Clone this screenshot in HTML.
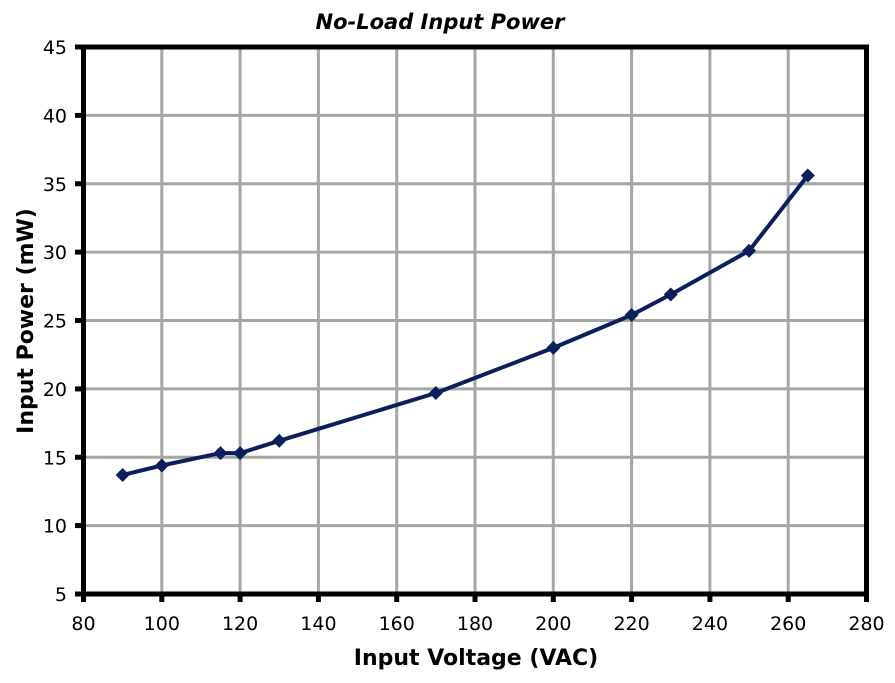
<!DOCTYPE html>
<html><head><style>body{margin:0;background:#fff}svg{display:block}text{font-family:"DejaVu Sans","Liberation Sans",sans-serif}</style></head><body>
<svg width="895" height="683" xmlns="http://www.w3.org/2000/svg">
<g stroke="#a6a6a6" stroke-width="3">
<line x1="161.8" y1="47" x2="161.8" y2="594"/><line x1="240.1" y1="47" x2="240.1" y2="594"/><line x1="318.4" y1="47" x2="318.4" y2="594"/><line x1="396.7" y1="47" x2="396.7" y2="594"/><line x1="475" y1="47" x2="475" y2="594"/><line x1="553.3" y1="47" x2="553.3" y2="594"/><line x1="631.6" y1="47" x2="631.6" y2="594"/><line x1="709.9" y1="47" x2="709.9" y2="594"/><line x1="788.2" y1="47" x2="788.2" y2="594"/>
<line x1="83.5" y1="115.4" x2="866.5" y2="115.4"/><line x1="83.5" y1="183.75" x2="866.5" y2="183.75"/><line x1="83.5" y1="252.1" x2="866.5" y2="252.1"/><line x1="83.5" y1="320.5" x2="866.5" y2="320.5"/><line x1="83.5" y1="388.9" x2="866.5" y2="388.9"/><line x1="83.5" y1="457.25" x2="866.5" y2="457.25"/><line x1="83.5" y1="525.6" x2="866.5" y2="525.6"/>
</g>
<g stroke="#000" stroke-width="5">
<line x1="83.5" y1="594" x2="83.5" y2="602"/><line x1="161.8" y1="594" x2="161.8" y2="602"/><line x1="240.1" y1="594" x2="240.1" y2="602"/><line x1="318.4" y1="594" x2="318.4" y2="602"/><line x1="396.7" y1="594" x2="396.7" y2="602"/><line x1="475" y1="594" x2="475" y2="602"/><line x1="553.3" y1="594" x2="553.3" y2="602"/><line x1="631.6" y1="594" x2="631.6" y2="602"/><line x1="709.9" y1="594" x2="709.9" y2="602"/><line x1="788.2" y1="594" x2="788.2" y2="602"/><line x1="866.5" y1="594" x2="866.5" y2="602"/>
<line x1="75" y1="47" x2="84" y2="47"/><line x1="75" y1="115.4" x2="84" y2="115.4"/><line x1="75" y1="183.75" x2="84" y2="183.75"/><line x1="75" y1="252.1" x2="84" y2="252.1"/><line x1="75" y1="320.5" x2="84" y2="320.5"/><line x1="75" y1="388.9" x2="84" y2="388.9"/><line x1="75" y1="457.25" x2="84" y2="457.25"/><line x1="75" y1="525.6" x2="84" y2="525.6"/><line x1="75" y1="594" x2="84" y2="594"/>
</g>
<rect x="83.5" y="47" width="783" height="547" fill="none" stroke="#000" stroke-width="5"/>
<g font-size="19" text-anchor="middle">
<text x="83.5" y="630">80</text><text x="161.8" y="630">100</text><text x="240.1" y="630">120</text><text x="318.4" y="630">140</text><text x="396.7" y="630">160</text><text x="475" y="630">180</text><text x="553.3" y="630">200</text><text x="631.6" y="630">220</text><text x="709.9" y="630">240</text><text x="788.2" y="630">260</text><text x="866.5" y="630">280</text>
</g>
<g font-size="19" text-anchor="end">
<text x="67" y="54">45</text><text x="67" y="122.4">40</text><text x="67" y="190.75">35</text><text x="67" y="259.1">30</text><text x="67" y="327.5">25</text><text x="67" y="395.9">20</text><text x="67" y="464.25">15</text><text x="67" y="532.6">10</text><text x="67" y="601">5</text>
</g>
<polyline fill="none" stroke="#0a1f5c" stroke-width="4" stroke-linejoin="round" points="122.65,475 161.8,465.5 220.5,453.1 240.1,453.1 279.25,440.8 435.85,393 553.3,347.85 631.6,315 670.75,294.5 749.05,250.8 807.8,175.5"/>
<g fill="#0a1f5c">
<polygon points="122.65,468 129.65,475 122.65,482 115.65,475"/>
<polygon points="161.8,458.5 168.8,465.5 161.8,472.5 154.8,465.5"/>
<polygon points="220.5,446.1 227.5,453.1 220.5,460.1 213.5,453.1"/>
<polygon points="240.1,446.1 247.1,453.1 240.1,460.1 233.1,453.1"/>
<polygon points="279.25,433.8 286.25,440.8 279.25,447.8 272.25,440.8"/>
<polygon points="435.85,386 442.85,393 435.85,400 428.85,393"/>
<polygon points="553.3,340.85 560.3,347.85 553.3,354.85 546.3,347.85"/>
<polygon points="631.6,308 638.6,315 631.6,322 624.6,315"/>
<polygon points="670.75,287.5 677.75,294.5 670.75,301.5 663.75,294.5"/>
<polygon points="749.05,243.8 756.05,250.8 749.05,257.8 742.05,250.8"/>
<polygon points="807.8,168.5 814.8,175.5 807.8,182.5 800.8,175.5"/>
</g>
<text x="440" y="29" font-size="21" font-weight="bold" font-style="italic" text-anchor="middle">No-Load Input Power</text>
<text x="476" y="665" font-size="22" font-weight="bold" text-anchor="middle">Input Voltage (VAC)</text>
<text transform="translate(33,321) rotate(-90)" font-size="22" font-weight="bold" text-anchor="middle">Input Power (mW)</text>
</svg></body></html>
